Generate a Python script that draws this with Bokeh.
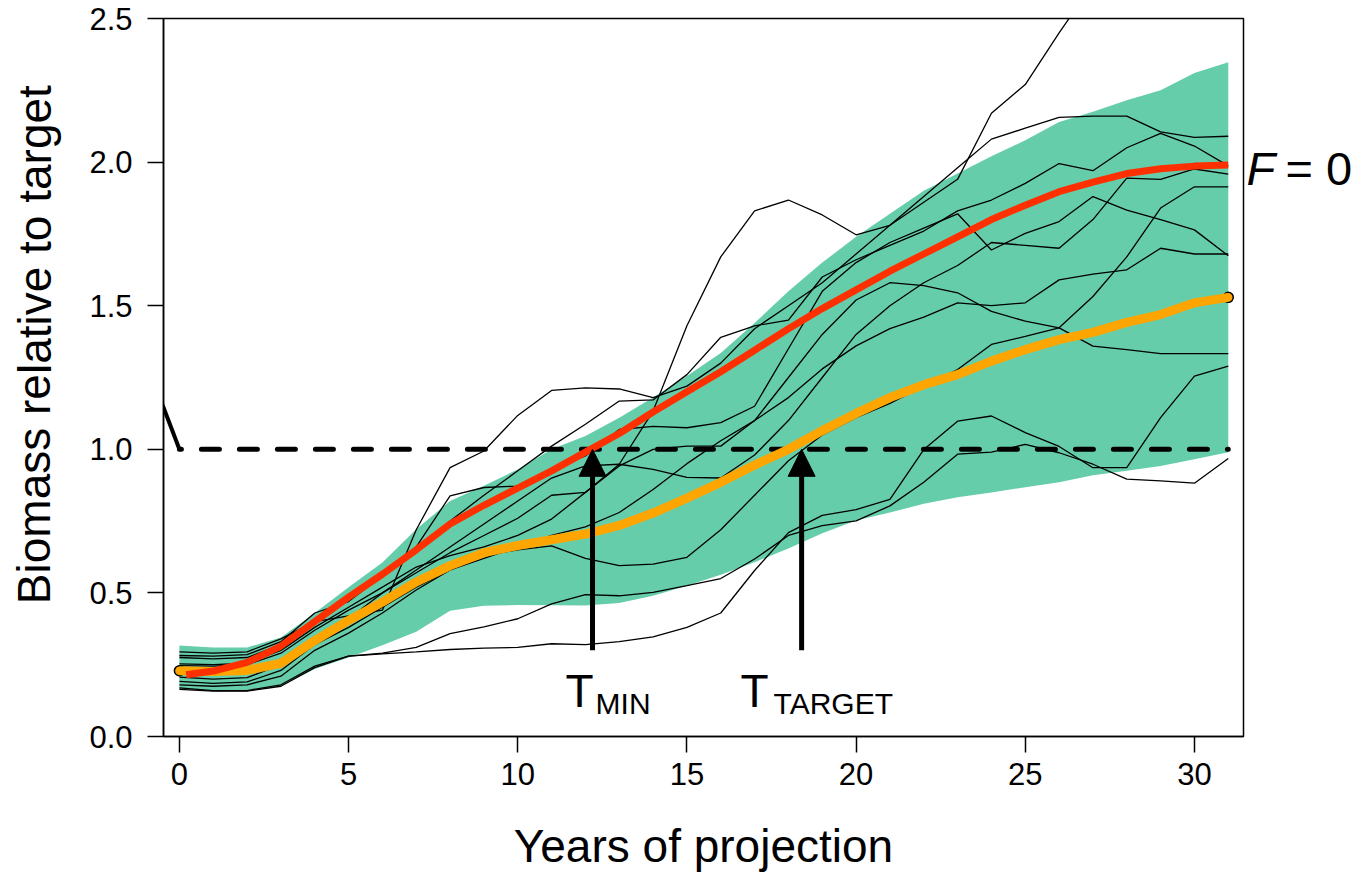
from bokeh.plotting import figure
from bokeh.layouts import row
from bokeh.models import Range1d, Label, Arrow, NormalHead, FixedTicker
from bokeh.embed import file_html
from bokeh.resources import INLINE

FONT = "Liberation Sans"

# ---------------- data ----------------
years = list(range(32))

band_upper = [0.317, 0.31, 0.31, 0.345, 0.43, 0.52, 0.606, 0.722, 0.82, 0.873, 0.93, 1.0,
              1.046, 1.11, 1.18, 1.255, 1.335, 1.44, 1.55, 1.65, 1.74, 1.82, 1.90, 1.96,
              2.02, 2.076, 2.14, 2.175, 2.215, 2.25, 2.31, 2.348]
band_lower = [0.165, 0.158, 0.158, 0.175, 0.235, 0.275, 0.318, 0.365, 0.438, 0.455, 0.458, 0.457,
              0.456, 0.465, 0.49, 0.525, 0.563, 0.607, 0.655, 0.708, 0.752, 0.78, 0.81, 0.833,
              0.85, 0.868, 0.885, 0.91, 0.925, 0.942, 0.965, 0.99]

median_fishing = [0.229, 0.226, 0.23, 0.255, 0.334, 0.404, 0.468, 0.538, 0.595, 0.64, 0.665, 0.685,
                  0.705, 0.735, 0.778, 0.83, 0.885, 0.945, 1.0, 1.065, 1.125, 1.18, 1.225, 1.26,
                  1.307, 1.347, 1.382, 1.407, 1.442, 1.469, 1.51, 1.529]

years_f0 = [0.2] + list(range(1, 32))
median_f0 = [0.215, 0.228, 0.258, 0.315, 0.40, 0.485, 0.565, 0.65, 0.74, 0.805, 0.865, 0.925,
             0.99, 1.055, 1.13, 1.20, 1.27, 1.345, 1.42, 1.49, 1.555, 1.62, 1.68, 1.74,
             1.80, 1.85, 1.897, 1.93, 1.96, 1.977, 1.986, 1.99]

run_1 = [0.253, 0.25, 0.255, 0.30, 0.38, 0.45, 0.52, 0.59, 0.63, 0.66, 0.70, 0.757,
         0.85, 0.948, 1.133, 1.43, 1.67, 1.83, 1.868, 1.816, 1.747, 1.78, 1.86, 1.94,
         2.17, 2.27, 2.45, 2.62, 2.74, 2.82, 2.88, 2.93]
run_2 = [0.295, 0.29, 0.295, 0.34, 0.40, 0.42, 0.44, 0.72, 0.936, 0.994, 1.118, 1.205,
         1.214, 1.21, 1.18, 1.22, 1.30, 1.42, 1.50, 1.58, 1.68, 1.78, 1.88, 1.98,
         2.08, 2.118, 2.156, 2.16, 2.16, 2.105, 2.086, 2.09]
run_3 = [0.282, 0.28, 0.285, 0.33, 0.43, 0.47, 0.56, 0.65, 0.75, 0.84, 0.925, 1.011,
         1.087, 1.168, 1.172, 1.26, 1.39, 1.43, 1.45, 1.60, 1.66, 1.71, 1.76, 1.83,
         1.868, 1.926, 1.995, 1.97, 2.05, 2.10, 2.056, 1.987]
run_4 = [0.275, 0.27, 0.275, 0.32, 0.41, 0.48, 0.56, 0.66, 0.838, 0.867, 0.872, 0.93,
         0.977, 1.069, 1.08, 1.075, 1.093, 1.15, 1.35, 1.55, 1.65, 1.72, 1.77, 1.82,
         1.694, 1.752, 1.793, 1.88, 1.833, 1.80, 1.764, 1.674]
run_5 = [0.207, 0.20, 0.205, 0.25, 0.34, 0.41, 0.50, 0.58, 0.66, 0.74, 0.82, 0.90,
         0.942, 0.948, 0.93, 0.902, 0.90, 0.98, 1.10, 1.25, 1.40, 1.50, 1.58, 1.64,
         1.72, 1.71, 1.70, 1.80, 1.944, 1.94, 1.976, 1.958]
run_6 = [0.247, 0.245, 0.25, 0.29, 0.37, 0.44, 0.50, 0.57, 0.64, 0.70, 0.76, 0.84,
         0.85, 0.942, 1.0, 1.011, 1.011, 1.10, 1.25, 1.40, 1.52, 1.58, 1.57, 1.545,
         1.48, 1.446, 1.423, 1.359, 1.347, 1.333, 1.333, 1.333]
run_7 = [0.18, 0.175, 0.18, 0.21, 0.30, 0.36, 0.43, 0.51, 0.58, 0.62, 0.66, 0.70,
         0.73, 0.78, 0.86, 0.95, 1.03, 1.10, 1.18, 1.28, 1.36, 1.42, 1.46, 1.51,
         1.50, 1.51, 1.59, 1.61, 1.625, 1.70, 1.68, 1.68]
run_8 = [0.192, 0.185, 0.19, 0.23, 0.32, 0.38, 0.45, 0.52, 0.58, 0.63, 0.65, 0.664,
         0.62, 0.595, 0.60, 0.624, 0.72, 0.84, 0.96, 1.05, 1.11, 1.16, 1.22, 1.278,
         1.365, 1.393, 1.423, 1.532, 1.67, 1.84, 1.914, 1.914]
run_9 = [0.169, 0.16, 0.16, 0.18, 0.245, 0.28, 0.29, 0.31, 0.358, 0.382, 0.41, 0.462,
         0.494, 0.49, 0.502, 0.525, 0.55, 0.618, 0.70, 0.734, 0.751, 0.803, 0.885, 0.983,
         0.99, 1.017, 0.988, 0.948, 0.896, 0.89, 0.882, 0.968]
run_10 = [0.164, 0.158, 0.158, 0.175, 0.24, 0.28, 0.288, 0.295, 0.303, 0.308, 0.31, 0.323,
          0.32, 0.33, 0.347, 0.38, 0.43, 0.578, 0.71, 0.77, 0.79, 0.826, 0.999, 1.098,
          1.116, 1.058, 1.01, 0.936, 0.936, 1.11, 1.255, 1.29]
runs = [run_1, run_2, run_3, run_4, run_5, run_6, run_7, run_8, run_9, run_10]

history_x = [-1, 0]
history_y = [1.31, 1.0]
target_x = [0, 31]
target_y = [1.0, 1.0]

t_min = 12.21
t_target = 18.39
arrow_base = 0.30

x_ticks = [0, 5, 10, 15, 20, 25, 30]
y_ticks = [0.0, 0.5, 1.0, 1.5, 2.0, 2.5]

x_title = "Years of projection"
y_title = "Biomass relative to target"

LEFT_W = 80

# ---------------- main figure ----------------
p = figure(width=1245 - LEFT_W, height=874, output_backend="svg", toolbar_location=None,
           x_range=Range1d(-0.47, 31.45), y_range=Range1d(0, 2.5),
           min_border_left=163 - LEFT_W, min_border_right=2, min_border_top=18,
           min_border_bottom=136)
p.xgrid.visible = False
p.ygrid.visible = False
p.outline_line_color = "black"
p.outline_line_width = 1.5
p.background_fill_color = "white"
p.border_fill_color = "white"

for ax, ticks in ((p.xaxis[0], x_ticks), (p.yaxis[0], y_ticks)):
    ax.ticker = FixedTicker(ticks=ticks)
    ax.major_tick_in = 0
    ax.major_tick_out = 16
    ax.minor_tick_line_color = None
    ax.major_tick_line_width = 1.5
    ax.axis_line_width = 1.5
    ax.major_label_text_font = FONT
    ax.major_label_text_font_size = "31px"
    ax.major_label_text_color = "black"
p.xaxis[0].major_label_standoff = 10
p.yaxis[0].major_label_standoff = 15
p.yaxis[0].major_label_overrides = {t: f"{t:.1f}" for t in y_ticks}
p.xaxis[0].major_label_overrides = {t: str(t) for t in x_ticks}
p.xaxis[0].axis_label = x_title
p.xaxis[0].axis_label_text_font = FONT
p.xaxis[0].axis_label_text_font_size = "46px"
p.xaxis[0].axis_label_text_font_style = "normal"
p.xaxis[0].axis_label_text_color = "black"
p.xaxis[0].axis_label_standoff = 32

# band
p.varea(x=years, y1=band_lower, y2=band_upper, fill_color="#66CDAA", fill_alpha=1.0)

# reference line and history
p.line(target_x, target_y, line_color="black", line_width=5, line_dash="18 20",
       line_dash_offset=16, line_cap="round")
p.line(history_x, history_y, line_color="black", line_width=4)

# individual runs
for r in runs:
    p.line(years, r, line_color="black", line_width=1.3)

# median under current fishing (orange) with outlined end caps
p.scatter([years[0], years[-1]], [median_fishing[0], median_fishing[-1]], size=10,
          fill_color="#FFA500", line_color="black", line_width=1.5)
p.line(years, median_fishing, line_color="#FFA500", line_width=9, line_cap="butt",
       line_join="round")

# median under F = 0 (red)
p.line(years_f0, median_f0, line_color="#FF3000", line_width=7, line_cap="butt",
       line_join="round")

# arrows
for xa in (t_min, t_target):
    p.add_layout(Arrow(end=NormalHead(size=27, fill_color="black", line_color="black"),
                       x_start=xa, y_start=arrow_base, x_end=xa, y_end=1.0,
                       line_width=5, line_color="black"))

def lab(fig, x, y, text, size, style="normal", angle=0.0, align="left", baseline="alphabetic"):
    fig.add_layout(Label(x=x, y=y, text=text, text_font=FONT, text_font_size=size,
                         text_font_style=style, text_color="black", angle=angle,
                         text_align=align, text_baseline=baseline))

lab(p, 11.41, 0.160, "T", "46px")
lab(p, 12.30, 0.115, "MIN", "30px")
lab(p, 16.58, 0.160, "T", "46px")
lab(p, 17.56, 0.115, "TARGET", "30px")

# ---------------- side panels (pixel coordinates) ----------------
def side(width):
    f = figure(width=width, height=874, output_backend="svg", toolbar_location=None,
               x_range=Range1d(0, width), y_range=Range1d(0, 874),
               x_axis_type=None, y_axis_type=None, min_border=0)
    f.xgrid.visible = False
    f.ygrid.visible = False
    f.outline_line_color = None
    f.background_fill_color = "white"
    f.border_fill_color = "white"
    return f

left = side(LEFT_W)
lab(left, 34, 874 - 357 - 40, y_title, "46px", angle=1.5707963, align="center",
    baseline="middle")

right = side(112)
lab(right, 1, 874 - 182, "F", "47px", style="italic")
lab(right, 40, 874 - 182, "= 0", "47px")

layout = row(left, p, right, spacing=0)
open("out.html", "w").write(file_html(layout, INLINE))
